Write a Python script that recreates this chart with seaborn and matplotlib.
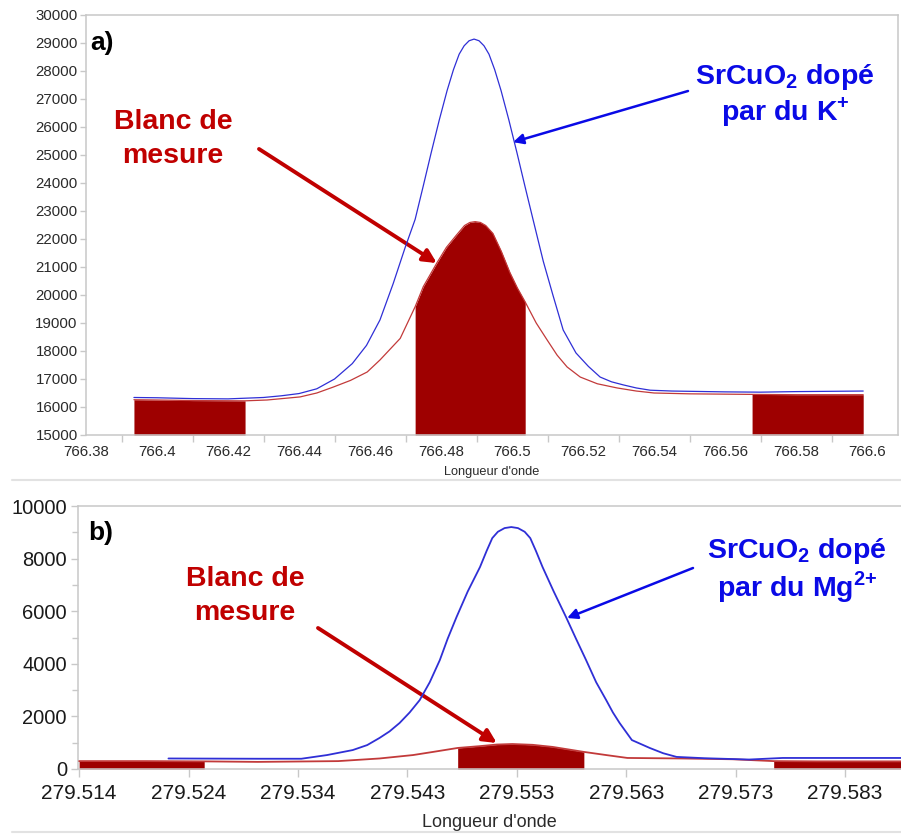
import numpy as np
import pandas as pd
import matplotlib
matplotlib.use("Agg")
import matplotlib.pyplot as plt
from matplotlib.lines import Line2D
import seaborn as sns

# ---------------- panel a) : K line ----------------
a_x_blue = [766.3935, 766.400, 766.410, 766.420, 766.430, 766.435, 766.440, 766.445, 766.450,
            766.455, 766.459, 766.4628, 766.4665, 766.4699, 766.4727, 766.475, 766.4772, 766.4795,
            766.4817, 766.4835, 766.4851, 766.4865, 766.4879, 766.4893, 766.4907, 766.4921,
            766.4935, 766.4951, 766.4969, 766.4991, 766.5014, 766.5036, 766.5059, 766.5088,
            766.5115, 766.5144, 766.518, 766.5215, 766.5248, 766.528, 766.5313, 766.535,
            766.5389, 766.545, 766.550, 766.560, 766.570, 766.580, 766.5989]
a_y_blue = [16340, 16330, 16300, 16290, 16340, 16400, 16480, 16650, 17000,
            17550, 18200, 19110, 20400, 21700, 22700, 23900, 25070, 26250,
            27300, 28050, 28600, 28900, 29080, 29140, 29080, 28900,
            28600, 28050, 27300, 26250, 25070, 23900, 22700, 21200,
            20000, 18750, 17930, 17450, 17070, 16900, 16790, 16680,
            16600, 16570, 16560, 16540, 16530, 16550, 16570]

a_x_red = [766.3935, 766.400, 766.410, 766.4248, 766.431, 766.4403, 766.445, 766.4496,
           766.4545, 766.4592, 766.4628, 766.4685, 766.4727, 766.475, 766.4788, 766.4815,
           766.4844, 766.4866, 766.4881, 766.4896, 766.4911, 766.4926, 766.4946, 766.497,
           766.4994, 766.5015, 766.5037, 766.5068, 766.5099, 766.5127, 766.5155, 766.5192,
           766.524, 766.5296, 766.535, 766.540, 766.550, 766.5676, 766.580, 766.5989]
a_y_red = [16260, 16250, 16230, 16220, 16250, 16360, 16500, 16710,
           16950, 17250, 17680, 18450, 19580, 20300, 21140, 21700,
           22150, 22480, 22590, 22620, 22590, 22480, 22200, 21550,
           20800, 20250, 19750, 19000, 18390, 17850, 17430, 17070,
           16830, 16680, 16570, 16500, 16470, 16450, 16440, 16440]

a_windows = [(766.3935, 766.4248), (766.4727, 766.5037), (766.5676, 766.5989)]
a_xticks = [766.38, 766.40, 766.42, 766.44, 766.46, 766.48, 766.50, 766.52, 766.54, 766.56, 766.58, 766.60]
a_xticklabels = ["766.38", "766.4", "766.42", "766.44", "766.46", "766.48", "766.5",
                 "766.52", "766.54", "766.56", "766.58", "766.6"]
a_yticks = [15000, 16000, 17000, 18000, 19000, 20000, 21000, 22000,
            23000, 24000, 25000, 26000, 27000, 28000, 29000, 30000]

# ---------------- panel b) : Mg line ----------------
b_x_blue = [279.5220, 279.5300, 279.5339, 279.5362, 279.5385, 279.5398, 279.5409, 279.5418,
            279.5427, 279.5436, 279.5445, 279.5454, 279.5463, 279.5470, 279.5478, 279.5488,
            279.5499, 279.5505, 279.5510, 279.5515, 279.5521, 279.5527, 279.5533, 279.5539,
            279.5544, 279.5549, 279.5555, 279.5565, 279.5576, 279.5585, 279.5594, 279.5603,
            279.5612, 279.5618, 279.5624, 279.5635, 279.5651, 279.5663, 279.5675, 279.5700,
            279.5740, 279.5770, 279.5880]
b_y_blue = [400, 390, 390, 530, 720, 910, 1180, 1430,
            1750, 2150, 2620, 3300, 4140, 4950, 5780, 6750,
            7680, 8300, 8780, 9020, 9160, 9200, 9160, 9020,
            8780, 8300, 7680, 6750, 5780, 4950, 4140, 3300,
            2620, 2150, 1750, 1100, 800, 600, 460, 410,
            360, 420, 420]

b_x_red = [279.5140, 279.5200, 279.5252, 279.5300, 279.5372, 279.5409, 279.5439, 279.5457,
           279.5479, 279.5499, 279.5514, 279.5528, 279.5546, 279.5564, 279.5592, 279.5612,
           279.5631, 279.5680, 279.5725, 279.5762, 279.5800, 279.5880]
b_y_red = [300, 300, 290, 270, 300, 400, 530, 650,
           800, 870, 930, 950, 920, 840, 650, 530,
           420, 400, 370, 300, 290, 290]

b_windows = [(279.5140, 279.5252), (279.5479, 279.5592), (279.5762, 279.5880)]
b_xticks = [279.514, 279.5238, 279.5336, 279.5434, 279.5532, 279.5630, 279.5728, 279.5826]
b_xticklabels = ["279.514", "279.524", "279.534", "279.543", "279.553", "279.563", "279.573", "279.583"]
b_yticks = [0, 2000, 4000, 6000, 8000, 10000]

W, H = 901, 834
BLUE_LINE = "#2f2fd6"
RED_LINE = "#c23a3a"
FILL = "#9e0000"
RED_TXT = "#c00000"
BLUE_TXT = "#0a0ae6"
SPINE = "#c8c8c8"

sns.set_theme(style="white")
plt.rcParams["font.family"] = ["Liberation Sans", "DejaVu Sans"]
plt.rcParams["mathtext.fontset"] = "custom"
plt.rcParams["mathtext.rm"] = "Liberation Sans"
plt.rcParams["mathtext.bf"] = "Liberation Sans:bold"

fig = plt.figure(figsize=(W / 100, H / 100), dpi=100)


def px_box(left, top, right, bottom):
    return [left / W, 1 - bottom / H, (right - left) / W, (bottom - top) / H]


ax_a = fig.add_axes(px_box(86, 15, 898, 435))
ax_b = fig.add_axes(px_box(78, 506, 901, 769))


def draw_panel(ax, xb, yb, xr, yr, windows, base, lw_b, lw_r):
    xr_arr = np.array(xr)
    yr_arr = np.array(yr)
    for lo, hi in windows:
        m = (xr_arr >= lo - 1e-9) & (xr_arr <= hi + 1e-9)
        ax.fill_between(xr_arr, yr_arr, base, where=m, color=FILL, lw=0, zorder=2)
    sns.lineplot(data=pd.DataFrame({"x": xr, "y": yr}), x="x", y="y", ax=ax,
                 color=RED_LINE, lw=lw_r, sort=False, estimator=None, zorder=3)
    sns.lineplot(data=pd.DataFrame({"x": xb, "y": yb}), x="x", y="y", ax=ax,
                 color=BLUE_LINE, lw=lw_b, sort=False, estimator=None, zorder=4)
    ax.set_ylabel("")


draw_panel(ax_a, a_x_blue, a_y_blue, a_x_red, a_y_red, a_windows, 15000, 0.9, 0.9)
draw_panel(ax_b, b_x_blue, b_y_blue, b_x_red, b_y_red, b_windows, 0, 1.3, 1.3)

# axes a styling
ax_a.set_xlim(766.38, 766.6087)
ax_a.set_ylim(15000, 30000)
ax_a.set_xticks(a_xticks)
ax_a.set_xticklabels(a_xticklabels)
ax_a.set_xticks([t + 0.01 for t in a_xticks[:-1]], minor=True)
ax_a.set_yticks(a_yticks)
ax_a.set_yticklabels([str(v) for v in a_yticks])
ax_a.tick_params(axis="x", which="major", length=0, pad=7, labelsize=10.8, labelcolor="#2a2a2a")
ax_a.tick_params(axis="x", which="minor", length=5, width=1, color=SPINE, bottom=True)
ax_a.tick_params(axis="y", which="major", length=4, width=1, color=SPINE, pad=2,
                 labelsize=10.8, labelcolor="#2a2a2a", left=True)
ax_a.set_xlabel("Longueur d'onde", fontsize=9.2, labelpad=5, color="#2a2a2a")
for s in ax_a.spines.values():
    s.set_color(SPINE)
    s.set_linewidth(1.1)

# axes b styling
ax_b.set_xlim(279.5139, 279.5876)
ax_b.set_ylim(0, 10000)
ax_b.set_xticks(b_xticks)
ax_b.set_xticklabels(b_xticklabels)
ax_b.set_yticks(b_yticks)
ax_b.set_yticklabels([str(v) for v in b_yticks])
ax_b.set_yticks([v + 1000 for v in b_yticks[:-1]], minor=True)
ax_b.tick_params(axis="x", which="major", length=6, width=1, color=SPINE, pad=5,
                 labelsize=15, labelcolor="#1a1a1a", bottom=True)
ax_b.tick_params(axis="y", which="major", length=5, width=1, color=SPINE, pad=3,
                 labelsize=14.5, labelcolor="#1a1a1a", left=True)
ax_b.tick_params(axis="y", which="minor", length=4, width=1, color=SPINE, left=True)
ax_b.set_xlabel("Longueur d'onde", fontsize=13, labelpad=7.5, color="#2a2a2a")
for name, s in ax_b.spines.items():
    s.set_color(SPINE)
    s.set_linewidth(1.1)
ax_b.spines["right"].set_visible(False)


# annotations (y given as baseline of the last line)
def ftext(x, y, s, **kw):
    fig.text(x / W, 1 - y / H, s, **kw)


def arrow(ax, tip, tail, color, lw, ms):
    ax.annotate("", xy=tip, xycoords="data", xytext=(tail[0], H - tail[1]),
                textcoords="figure pixels", annotation_clip=False,
                arrowprops=dict(arrowstyle="-|>", color=color, lw=lw,
                                mutation_scale=ms, shrinkA=0, shrinkB=0))


ftext(90, 50, "a)", fontsize=19, fontweight="bold", color="black", ha="left", va="baseline")
ftext(88, 540, "b)", fontsize=19, fontweight="bold", color="black", ha="left", va="baseline")

ftext(173, 163, "Blanc de\nmesure", fontsize=20.5, fontweight="bold", color=RED_TXT,
      ha="center", va="baseline", linespacing=1.42)
ftext(245, 620, "Blanc de\nmesure", fontsize=20.5, fontweight="bold", color=RED_TXT,
      ha="center", va="baseline", linespacing=1.42)

ftext(785, 120, "SrCuO$_\\mathbf{2}$ dopé\npar du K$^\\mathbf{+}$", fontsize=20.5,
      fontweight="bold", color=BLUE_TXT, ha="center", va="baseline", linespacing=1.1)
ftext(797, 596, "SrCuO$_\\mathbf{2}$ dopé\npar du Mg$^{\\mathbf{2}\\mathbf{+}}$", fontsize=20.5,
      fontweight="bold", color=BLUE_TXT, ha="center", va="baseline", linespacing=1.1)

arrow(ax_a, (766.4788, 21140), (259, 149), RED_TXT, 2.8, 20)
arrow(ax_a, (766.5003, 25460), (688, 91), BLUE_TXT, 1.8, 15)
arrow(ax_b, (279.5514, 989), (318, 628), RED_TXT, 2.8, 20)
arrow(ax_b, (279.5577, 5741), (693, 568), BLUE_TXT, 1.8, 15)

# light separators between the two screenshots
fig.add_artist(Line2D([12 / W, 1], [1 - 480 / H, 1 - 480 / H], color="#e2e2e2", lw=1.5,
                      transform=fig.transFigure))
fig.add_artist(Line2D([12 / W, 1], [1 - 832 / H, 1 - 832 / H], color="#e2e2e2", lw=1.5,
                      transform=fig.transFigure))

fig.savefig("out.png", dpi=100, facecolor="white")
